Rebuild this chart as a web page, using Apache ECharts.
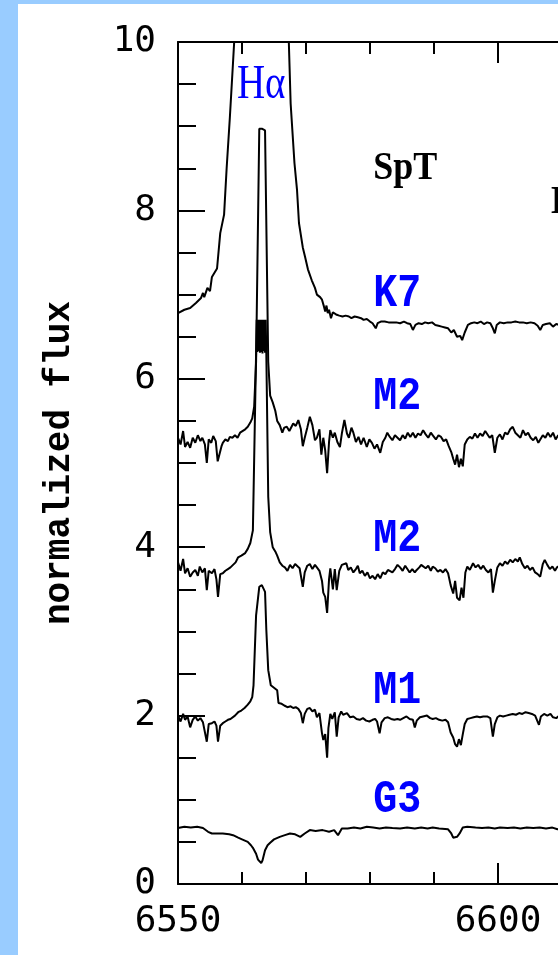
<!DOCTYPE html>
<html>
<head>
<meta charset="utf-8">
<script src="https://cdn.jsdelivr.net/npm/echarts@6/dist/echarts.min.js"></script>
<style>
  html, body { margin: 0; padding: 0; background: #9cf; overflow: hidden; width: 558px; height: 955px; }
  #panel { position: absolute; left: 18px; top: 4px; width: 540px; height: 951px; background: #fff; }
  /* the plot continues past the right edge of the window */
  #chart { position: absolute; left: 0; top: 0; width: 900px; height: 955px; }
</style>
</head>
<body>
<div id="panel"></div>
<div id="chart"></div>
<script>
// Hα region spectra, each offset vertically: [wavelength (Å), normalized flux]
const k7 = [
  [6550.0,6.78],[6551.0,6.82],[6551.9,6.84],[6552.8,6.90],[6553.6,6.96],[6553.9,7.02],[6554.1,6.97],
  [6554.6,7.08],[6555.0,7.04],[6555.3,7.21],[6555.7,7.26],[6556.1,7.31],[6556.4,7.29],[6556.6,7.73],
  [6557.2,7.95],[6557.6,8.50],[6558.1,9.10],[6558.6,9.76],[6559.0,10.3],[6563.0,11.5],[6567.2,10.3],
  [6567.6,9.27],[6568.2,8.56],[6568.6,8.24],[6568.9,7.85],[6569.5,7.56],[6569.85,7.45],[6570.3,7.30],
  [6570.9,7.17],[6571.4,7.08],[6571.7,7.00],[6572.2,6.97],[6572.5,6.94],[6572.8,6.86],[6573.0,6.80],
  [6573.2,6.87],[6573.4,6.78],[6573.6,6.82],[6573.9,6.72],[6574.2,6.79],[6574.5,6.80],[6574.8,6.76],
  [6575.2,6.75],[6575.7,6.74],[6576.2,6.75],[6576.7,6.74],[6577.1,6.72],[6577.6,6.74],[6578.1,6.73],
  [6578.6,6.72],[6579.0,6.70],[6579.5,6.71],[6580.0,6.68],[6580.4,6.66],[6580.9,6.60],[6581.2,6.66],
  [6581.7,6.68],[6582.3,6.68],[6582.9,6.67],[6583.5,6.67],[6584.1,6.67],[6584.7,6.66],[6585.3,6.68],
  [6585.8,6.66],[6586.3,6.65],[6586.7,6.58],[6587.1,6.64],[6587.6,6.66],[6588.1,6.65],[6588.6,6.67],
  [6589.1,6.66],[6589.7,6.67],[6590.2,6.64],[6590.7,6.63],[6591.2,6.62],[6591.7,6.61],[6592.2,6.60],
  [6592.7,6.55],[6593.1,6.58],[6593.6,6.50],[6594.1,6.51],[6594.4,6.46],[6594.8,6.55],[6595.3,6.64],
  [6595.8,6.66],[6596.3,6.67],[6596.8,6.66],[6597.3,6.68],[6597.8,6.65],[6598.3,6.67],[6598.8,6.66],
  [6599.2,6.60],[6599.5,6.54],[6599.8,6.64],[6600.3,6.67],[6600.9,6.66],[6601.5,6.67],[6602.1,6.67],
  [6602.7,6.68],[6603.3,6.67],[6603.9,6.67],[6604.5,6.66],[6605.1,6.67],[6605.7,6.66],[6606.2,6.63],
  [6606.6,6.58],[6607.0,6.64],[6607.5,6.65],[6608.1,6.66],[6608.6,6.62],[6609.1,6.65],[6609.6,6.64],
  [6610.0,6.66],[6610.6,6.65],[6611.2,6.67]
];

const m2Upper = [
  [6550.0,5.30],[6550.4,5.22],[6550.8,5.38],[6551.1,5.19],[6551.5,5.25],[6551.9,5.18],[6552.3,5.30],
  [6552.7,5.24],[6553.1,5.33],[6553.5,5.26],[6553.8,5.30],[6554.2,5.22],[6554.5,5.00],[6554.8,5.28],
  [6555.2,5.24],[6555.5,5.32],[6555.9,5.26],[6556.2,5.02],[6556.5,5.01],[6556.8,5.20],[6557.0,5.24],
  [6557.4,5.28],[6557.8,5.26],[6558.1,5.31],[6558.5,5.30],[6558.9,5.33],[6559.3,5.30],[6559.7,5.36],
  [6560.0,5.37],[6560.5,5.40],[6560.9,5.43],[6561.3,5.48],[6561.6,5.53],[6561.9,5.67],[6562.2,6.20],
  [6562.7,8.97],[6563.1,8.97],[6563.6,8.95],[6564.1,6.20],[6564.4,5.80],[6564.8,5.72],[6565.2,5.62],
  [6565.5,5.50],[6565.9,5.45],[6566.3,5.36],[6566.6,5.42],[6567.0,5.43],[6567.4,5.38],[6568.0,5.47],
  [6568.4,5.44],[6568.8,5.51],[6569.2,5.40],[6569.5,5.20],[6569.8,5.30],[6570.2,5.42],[6570.6,5.55],
  [6571.0,5.45],[6571.4,5.27],[6571.7,5.30],[6572.1,5.40],[6572.4,5.10],[6572.7,5.30],[6573.0,5.15],
  [6573.3,4.88],[6573.6,5.25],[6573.8,5.39],[6574.2,5.30],[6574.5,5.36],[6574.9,5.25],[6575.3,5.19],
  [6575.6,5.35],[6576.0,5.51],[6576.4,5.35],[6576.7,5.30],[6577.1,5.42],[6577.4,5.36],[6577.8,5.25],
  [6578.2,5.31],[6578.6,5.22],[6579.0,5.30],[6579.5,5.19],[6579.9,5.28],[6580.3,5.24],[6580.7,5.17],
  [6581.1,5.22],[6581.6,5.12],[6582.0,5.25],[6582.4,5.30],[6582.7,5.36],[6583.1,5.31],[6583.5,5.27],
  [6583.9,5.33],[6584.3,5.30],[6584.7,5.27],[6585.1,5.33],[6585.5,5.29],[6585.9,5.36],[6586.3,5.31],
  [6586.7,5.36],[6587.1,5.30],[6587.5,5.35],[6587.9,5.33],[6588.3,5.39],[6588.7,5.34],[6589.1,5.30],
  [6589.5,5.36],[6589.9,5.32],[6590.3,5.28],[6590.7,5.33],[6591.1,5.31],[6591.5,5.26],[6591.9,5.28],
  [6592.3,5.20],[6592.7,5.13],[6593.0,5.05],[6593.3,4.98],[6593.6,5.10],[6593.9,4.95],[6594.2,5.05],
  [6594.5,4.96],[6594.8,5.22],[6595.2,5.28],[6595.6,5.31],[6596.0,5.29],[6596.4,5.35],[6596.8,5.30],
  [6597.2,5.35],[6597.6,5.32],[6598.0,5.38],[6598.3,5.37],[6598.7,5.30],[6599.1,5.33],[6599.5,5.12],
  [6599.9,5.30],[6600.3,5.34],[6600.7,5.28],[6601.1,5.36],[6601.5,5.34],[6601.9,5.40],[6602.3,5.43],
  [6602.7,5.36],[6603.1,5.33],[6603.5,5.30],[6603.9,5.39],[6604.3,5.33],[6604.7,5.36],[6605.1,5.30],
  [6605.5,5.27],[6605.9,5.31],[6606.3,5.24],[6606.6,5.26],[6607.0,5.33],[6607.4,5.30],[6607.8,5.36],
  [6608.2,5.31],[6608.6,5.36],[6609.0,5.28],[6609.4,5.33],[6609.8,5.30],[6610.2,5.32],[6610.7,5.27],
  [6611.2,5.33]
];

const m2Lower = [
  [6550.0,3.82],[6550.4,3.72],[6550.8,3.86],[6551.1,3.69],[6551.5,3.75],[6551.9,3.65],[6552.3,3.70],
  [6552.7,3.73],[6553.1,3.66],[6553.4,3.77],[6553.8,3.70],[6554.2,3.75],[6554.5,3.49],[6554.8,3.72],
  [6555.3,3.69],[6555.7,3.74],[6556.0,3.62],[6556.25,3.41],[6556.6,3.68],[6557.0,3.69],[6557.4,3.72],
  [6557.8,3.74],[6558.2,3.76],[6558.6,3.79],[6559.0,3.82],[6559.4,3.88],[6559.9,3.90],[6560.5,3.93],
  [6560.9,3.98],[6561.3,4.05],[6561.7,4.20],[6562.2,6.30],[6562.3,6.70],[6562.4,6.32],[6562.5,6.70],
  [6562.6,6.33],[6562.7,6.70],[6562.8,6.31],[6562.9,6.70],[6563.0,6.32],[6563.1,6.70],[6563.2,6.30],
  [6563.3,6.70],[6563.4,6.33],[6563.5,6.70],[6563.6,6.31],[6563.7,6.70],[6563.8,6.30],[6564.1,4.60],
  [6564.4,4.18],
  [6564.8,4.00],[6565.2,3.95],[6565.5,3.90],[6565.9,3.82],[6566.3,3.78],[6566.7,3.76],[6567.1,3.72],
  [6567.5,3.79],[6567.9,3.75],[6568.3,3.80],[6568.6,3.81],[6569.0,3.75],[6569.5,3.53],[6569.8,3.70],
  [6570.2,3.78],[6570.6,3.80],[6571.0,3.74],[6571.4,3.79],[6571.7,3.76],[6572.1,3.72],[6572.5,3.60],
  [6572.7,3.46],[6573.0,3.41],[6573.3,3.22],[6573.6,3.62],[6573.8,3.75],[6574.2,3.50],[6574.5,3.74],
  [6574.8,3.49],[6575.2,3.72],[6575.6,3.79],[6575.9,3.77],[6576.3,3.81],[6576.6,3.73],[6577.0,3.76],
  [6577.4,3.70],[6577.8,3.74],[6578.1,3.78],[6578.4,3.69],[6578.8,3.72],[6579.2,3.66],[6579.6,3.70],
  [6580.0,3.63],[6580.4,3.66],[6580.8,3.62],[6581.2,3.68],[6581.6,3.63],[6582.0,3.70],[6582.4,3.68],
  [6582.8,3.73],[6583.1,3.75],[6583.5,3.70],[6583.9,3.74],[6584.3,3.79],[6584.7,3.76],[6585.1,3.72],
  [6585.5,3.78],[6585.8,3.77],[6586.2,3.70],[6586.6,3.74],[6587.0,3.70],[6587.3,3.73],[6587.7,3.76],
  [6588.0,3.79],[6588.3,3.81],[6588.7,3.75],[6589.1,3.78],[6589.5,3.72],[6589.8,3.77],[6590.2,3.75],
  [6590.6,3.71],[6591.0,3.73],[6591.4,3.70],[6591.8,3.74],[6592.2,3.69],[6592.6,3.55],[6593.0,3.45],
  [6593.3,3.60],[6593.6,3.40],[6594.0,3.37],[6594.3,3.52],[6594.6,3.40],[6594.9,3.70],[6595.2,3.77],
  [6595.6,3.73],[6596.1,3.81],[6596.5,3.76],[6596.9,3.79],[6597.3,3.74],[6597.7,3.78],[6598.1,3.73],
  [6598.5,3.70],[6598.9,3.74],[6599.2,3.46],[6599.5,3.60],[6599.9,3.76],[6600.3,3.81],[6600.7,3.78],
  [6601.1,3.83],[6601.5,3.80],[6601.9,3.85],[6602.3,3.82],[6602.7,3.86],[6603.1,3.83],[6603.4,3.88],
  [6603.8,3.80],[6604.2,3.75],[6604.6,3.78],[6605.0,3.73],[6605.4,3.76],[6605.8,3.70],[6606.2,3.68],
  [6606.6,3.65],[6607.0,3.80],[6607.3,3.85],[6607.7,3.79],[6608.1,3.74],[6608.5,3.77],[6608.9,3.72],
  [6609.2,3.76],[6609.6,3.78],[6610.0,3.75],[6610.5,3.79],[6611.0,3.74]
];

const m1 = [
  [6550.0,2.00],[6550.4,1.93],[6550.8,2.02],[6551.1,1.95],[6551.5,1.99],[6551.9,1.86],[6552.3,1.95],
  [6552.7,1.99],[6553.1,1.94],[6553.5,1.97],[6553.9,1.92],[6554.2,1.90],[6554.5,1.69],[6554.8,1.90],
  [6555.3,1.91],[6555.7,1.93],[6556.0,1.88],[6556.25,1.69],[6556.6,1.88],[6557.0,1.91],[6557.4,1.93],
  [6557.8,1.95],[6558.2,1.96],[6558.5,1.98],[6558.9,2.00],[6559.4,2.04],[6559.9,2.06],[6560.4,2.09],
  [6560.9,2.13],[6561.3,2.17],[6561.6,2.22],[6561.8,2.36],[6562.2,3.19],[6562.7,3.53],[6563.1,3.55],
  [6563.6,3.47],[6563.8,3.02],[6564.1,2.54],[6564.5,2.36],[6565.0,2.33],[6565.5,2.30],[6565.7,2.15],
  [6566.2,2.14],[6566.6,2.12],[6567.1,2.10],[6567.6,2.11],[6568.0,2.09],[6568.4,2.10],[6568.8,2.08],
  [6569.2,2.03],[6569.5,1.91],[6569.8,2.02],[6570.2,2.08],[6570.6,2.09],[6571.0,2.05],[6571.4,2.07],
  [6571.7,1.98],[6572.1,2.03],[6572.5,1.79],[6572.7,1.71],[6573.0,1.78],[6573.3,1.50],[6573.5,1.85],
  [6573.8,2.02],[6574.1,1.96],[6574.5,2.04],[6574.8,1.75],[6575.1,1.98],[6575.5,2.05],[6575.8,2.01],
  [6576.1,2.02],[6576.4,2.03],[6576.9,1.98],[6577.4,1.99],[6577.9,1.96],[6578.4,1.95],[6578.9,1.97],
  [6579.4,1.94],[6579.9,1.93],[6580.4,1.95],[6580.8,1.96],[6581.1,1.93],[6581.5,1.79],[6581.8,1.92],
  [6582.3,1.97],[6582.8,1.98],[6583.3,1.96],[6583.8,1.95],[6584.3,1.96],[6584.7,1.95],[6585.2,1.97],
  [6585.7,1.99],[6586.2,1.96],[6586.7,1.95],[6587.0,1.86],[6587.3,1.94],[6587.8,1.98],[6588.3,1.99],
  [6588.9,2.00],[6589.4,1.97],[6589.8,1.96],[6590.3,1.97],[6590.8,1.95],[6591.3,1.94],[6591.8,1.95],
  [6592.2,1.92],[6592.6,1.80],[6593.0,1.74],[6593.3,1.66],[6593.6,1.63],[6593.9,1.72],[6594.2,1.65],
  [6594.5,1.78],[6594.8,1.90],[6595.2,1.96],[6595.7,1.97],[6596.2,1.98],[6596.7,1.99],[6597.2,1.98],
  [6597.7,1.99],[6598.3,1.99],[6598.8,1.97],[6599.2,1.75],[6599.5,1.90],[6599.9,1.98],[6600.3,2.00],
  [6600.8,1.99],[6601.3,2.00],[6601.8,2.01],[6602.3,2.02],[6602.8,2.01],[6603.3,2.03],[6603.8,2.02],
  [6604.3,2.04],[6604.8,2.03],[6605.3,2.02],[6605.8,2.00],[6606.1,2.01],[6606.4,1.89],[6606.7,1.99],
  [6607.2,2.02],[6607.7,2.00],[6608.2,2.02],[6608.6,1.98],[6609.1,1.97],[6609.6,2.00],[6610.0,1.99],
  [6610.6,2.01],[6611.2,1.98]
];

const g3 = [
  [6550.0,0.665],[6551.0,0.68],[6552.0,0.67],[6553.0,0.68],[6553.9,0.665],[6554.7,0.62],[6555.3,0.60],
  [6556.2,0.60],[6557.0,0.60],[6558.0,0.59],[6558.6,0.58],[6559.4,0.55],[6560.0,0.53],[6560.9,0.50],
  [6561.4,0.46],[6561.7,0.43],[6562.2,0.36],[6562.5,0.29],[6563.0,0.25],[6563.2,0.28],[6563.6,0.40],
  [6564.0,0.46],[6564.4,0.49],[6565.0,0.53],[6565.9,0.56],[6566.7,0.58],[6567.5,0.60],[6568.3,0.59],
  [6569.1,0.56],[6569.8,0.60],[6570.6,0.64],[6571.5,0.63],[6572.6,0.64],[6573.6,0.62],[6574.4,0.64],
  [6575.0,0.58],[6575.6,0.66],[6576.5,0.66],[6577.5,0.67],[6578.5,0.66],[6579.5,0.68],[6580.5,0.67],
  [6581.5,0.66],[6582.5,0.67],[6583.5,0.665],[6584.7,0.66],[6585.8,0.67],[6587.0,0.66],[6588.0,0.67],
  [6589.0,0.66],[6589.8,0.67],[6590.8,0.66],[6592.2,0.65],[6592.7,0.60],[6593.0,0.55],[6593.6,0.56],
  [6594.0,0.60],[6594.5,0.67],[6595.2,0.68],[6596.5,0.67],[6597.5,0.665],[6598.5,0.67],[6599.5,0.66],
  [6600.3,0.67],[6601.5,0.665],[6602.5,0.67],[6603.5,0.66],[6604.5,0.67],[6605.5,0.665],[6606.5,0.67],
  [6607.5,0.66],[6608.5,0.67],[6609.3,0.65],[6610.0,0.66],[6611.0,0.67]
];

const spectra = [k7, m2Upper, m2Lower, m1, g3];
const spectralTypes = ['K7', 'M2', 'M2', 'M1', 'G3'];

// text annotations anchored in data space: [wavelength, flux] of the left / vertical-centre point
const typeLabelPos = [[6580.5, 7.00], [6580.5, 5.78], [6580.5, 4.09], [6580.5, 2.29], [6580.5, 0.99]];
const headerTexts = [
  { text: 'H\u03b1', at: [6559.2, 9.48], kind: 'line' },
  { text: 'SpT', at: [6580.5, 8.50], kind: 'header' },
  { text: 'EW(H\u03b1)', at: [6608.3, 8.09], kind: 'header' }
];

const xTickStep = 50;
const yTickStep = 2;

const chart = echarts.init(document.getElementById('chart'), null, { renderer: 'canvas' });

const tickLine = { color: '#000', width: 2 };
const numFont = { fontFamily: 'DejaVu Sans Mono', fontSize: 36, color: '#000', formatter: v => String(v) };

function xAxisDef(pos) {
  return {
    type: 'value', position: pos, min: 6550, max: 6650, interval: xTickStep,
    axisLine: { show: true, onZero: false, lineStyle: tickLine },
    axisTick: { show: true, inside: true, length: 21, lineStyle: tickLine },
    minorTick: { show: true, splitNumber: 5, length: 12, lineStyle: tickLine },
    axisLabel: Object.assign({ show: pos === 'bottom', margin: 20 }, numFont),
    splitLine: { show: false }, minorSplitLine: { show: false }
  };
}

chart.setOption({
  animation: false,
  grid: { left: 178, top: 42, width: 640, height: 842, containLabel: false },
  xAxis: [xAxisDef('bottom'), xAxisDef('top')],
  yAxis: {
    type: 'value', min: 0, max: 10, interval: yTickStep,
    axisLine: { show: true, onZero: false, lineStyle: tickLine },
    axisTick: { show: true, inside: true, length: 27, lineStyle: tickLine },
    minorTick: { show: true, splitNumber: 4, length: 18, lineStyle: tickLine },
    axisLabel: Object.assign({ margin: 22 }, numFont),
    splitLine: { show: false },
    name: 'normalized flux', nameLocation: 'middle', nameGap: 100, nameRotate: 90,
    nameTextStyle: { fontFamily: 'Liberation Mono', fontWeight: 'bold', fontSize: 36, color: '#000' }
  },
  series: spectra.map((d, i) => ({
    name: spectralTypes[i] + '-' + i,
    type: 'line', data: d, xAxisIndex: 0, yAxisIndex: 0,
    showSymbol: false, symbol: 'none', clip: true,
    lineStyle: { color: '#000', width: 2 }
  }))
});

// annotation texts placed through the grid's coordinate system
const graphics = [];
typeLabelPos.forEach((p, i) => {
  const px = chart.convertToPixel({ gridIndex: 0 }, p);
  graphics.push({
    type: 'text', x: px[0], y: px[1], scaleY: 1.15, z: 10,
    style: { text: spectralTypes[i], fill: '#0000ff', fontFamily: 'Liberation Mono',
             fontWeight: 'bold', fontSize: 40, align: 'left', verticalAlign: 'middle' }
  });
});
headerTexts.forEach(h => {
  const px = chart.convertToPixel({ gridIndex: 0 }, h.at);
  const isLine = h.kind === 'line';
  graphics.push({
    type: 'text', x: px[0], y: px[1], scaleY: isLine ? 1.22 : 1.12, z: 10,
    style: { text: h.text, fill: isLine ? '#0000ff' : '#000', fontFamily: 'Liberation Serif',
             fontWeight: isLine ? 'normal' : 'bold', fontSize: isLine ? 39 : 36,
             align: 'left', verticalAlign: 'middle' }
  });
});
chart.setOption({ graphic: graphics });
</script>
</body>
</html>
